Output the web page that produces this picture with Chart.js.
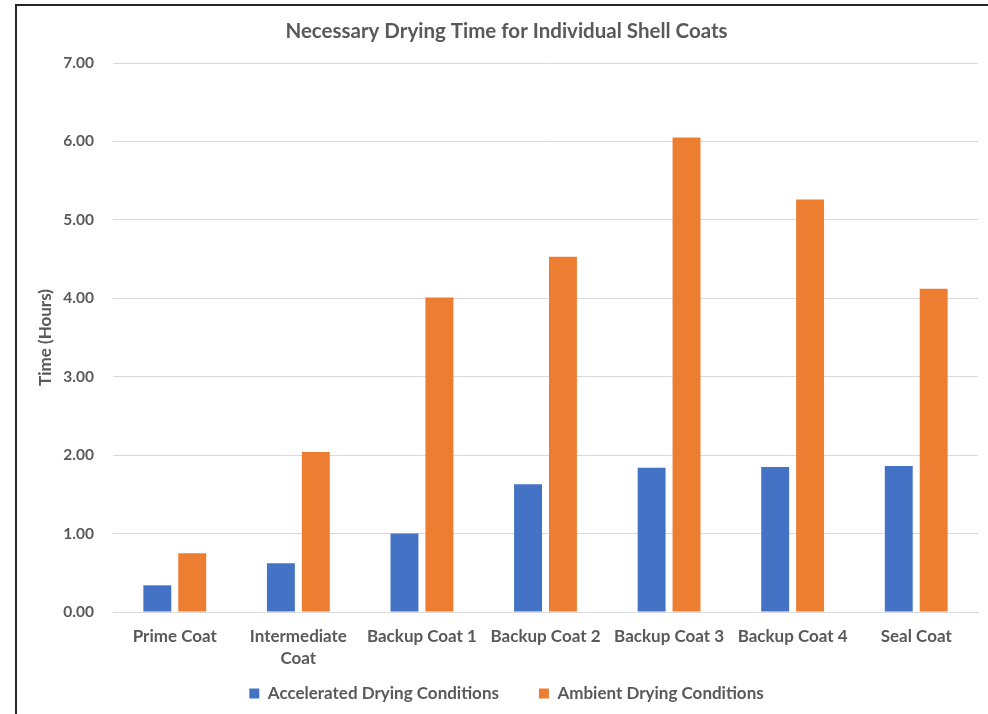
<!DOCTYPE html>
<html>
<head>
<meta charset="utf-8">
<script src="https://cdn.jsdelivr.net/npm/chart.js@4/dist/chart.umd.min.js"></script>
<style>
  html, body { margin: 0; padding: 0; background: #ffffff; overflow: hidden; }
  #wrap { position: relative; width: 988px; height: 714px; }
  #chart { position: absolute; left: 0; top: 0; }
  #frame {
    position: absolute; left: 15px; top: 4px; width: 1000px; height: 740px;
    border: 2px solid #262626; pointer-events: none;
  }
</style>
</head>
<body>
<div id="wrap">
  <canvas id="chart" width="988" height="714"></canvas>
  <div id="frame"></div>
</div>
<script>
// Coat stages along the x axis
const categories = [
  'Prime Coat',
  ['Intermediate', 'Coat'],
  'Backup Coat 1',
  'Backup Coat 2',
  'Backup Coat 3',
  'Backup Coat 4',
  'Seal Coat'
];

// Drying time in hours for each coat
const acceleratedHours = [0.34, 0.62, 1.00, 1.63, 1.84, 1.85, 1.86];
const ambientHours     = [0.75, 2.04, 4.01, 4.53, 6.05, 5.26, 4.12];

const seriesNames = ['Accelerated Drying Conditions', 'Ambient Drying Conditions'];
const yTicks = [0, 1, 2, 3, 4, 5, 6, 7];

const FONT = 'Lato, "Open Sans", sans-serif';
const TEXT = '#595959';

new Chart(document.getElementById('chart'), {
  type: 'bar',
  data: {
    labels: categories,
    datasets: [
      {
        label: seriesNames[0],
        data: acceleratedHours,
        backgroundColor: '#4472C4',
        categoryPercentage: 0.565,
        barPercentage: 0.8
      },
      {
        label: seriesNames[1],
        data: ambientHours,
        backgroundColor: '#ED7D31',
        categoryPercentage: 0.565,
        barPercentage: 0.8
      }
    ]
  },
  options: {
    responsive: false,
    animation: false,
    layout: { padding: { left: 35, right: 10, top: 0, bottom: 2 } },
    plugins: {
      title: {
        display: true,
        text: 'Necessary Drying Time for Individual Shell Coats',
        color: TEXT,
        font: { family: FONT, size: 20.5, weight: 'bold' },
        padding: { top: 19, bottom: 19.4 }
      },
      legend: {
        position: 'bottom',
        labels: {
          color: TEXT,
          font: { family: FONT, size: 17, weight: 'bold' },
          boxWidth: 10,
          boxHeight: 10,
          padding: 40
        }
      },
      tooltip: { enabled: false }
    },
    scales: {
      x: {
        // keep the axis box short so the wide legend spacing fits below,
        // and let the two-line category labels draw past the box unclipped
        afterFit: (axis) => {
          axis.height = 33;
          axis._computeLabelArea = () => undefined;
        },
        grid: { display: false, drawTicks: false },
        border: { display: true, color: '#D9D9D9', width: 1 },
        ticks: {
          color: TEXT,
          font: { family: FONT, size: 17, weight: 'bold', lineHeight: 1.32 },
          padding: 13,
          maxRotation: 0,
          autoSkip: false
        }
      },
      y: {
        min: 0,
        max: 7,
        afterBuildTicks: (axis) => { axis.ticks = yTicks.map(v => ({ value: v })); },
        afterFit: (axis) => { axis.width = 78; },
        grid: { color: '#D9D9D9', drawTicks: false },
        border: { display: false },
        ticks: {
          color: TEXT,
          font: { family: FONT, size: 15.5, weight: 'bold' },
          padding: 19,
          callback: (v) => Number(v).toFixed(2)
        },
        title: {
          display: true,
          text: 'Time (Hours)',
          color: TEXT,
          font: { family: FONT, size: 17, weight: 'bold' },
          padding: { top: 0, bottom: 0 }
        }
      }
    }
  }
});
</script>
</body>
</html>
